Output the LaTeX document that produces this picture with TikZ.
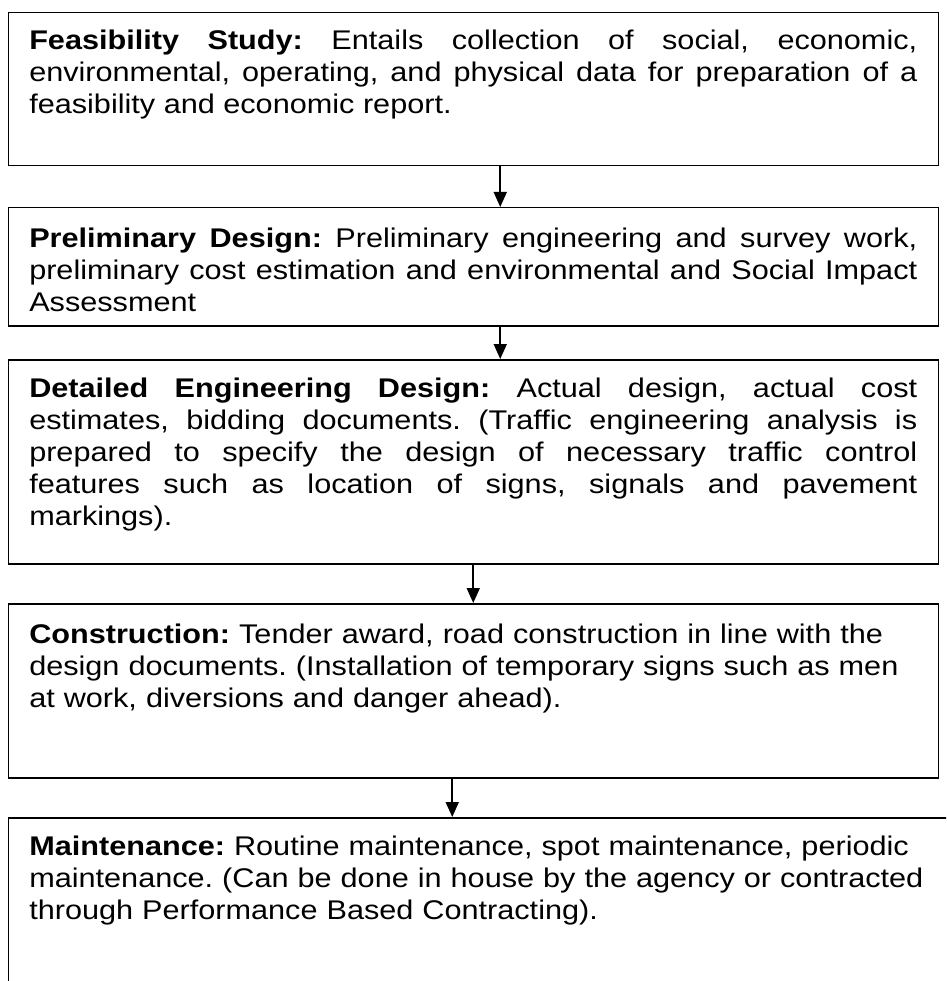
\documentclass[tikz,border=0pt]{standalone}
\usepackage{fontspec}
\setmainfont{Liberation Sans}[FakeStretch=1.135]
\usetikzlibrary{arrows.meta}
\newcommand\stagefont{\fontsize{27}{32}\selectfont\frenchspacing\hyphenpenalty=10000}
\begin{document}
\begin{tikzpicture}[x=1pt,y=1pt,
    stagebox/.style={draw,line width=1.5pt,anchor=north west,inner xsep=21pt,inner ysep=0pt,text width=888pt,font=\stagefont},
    flow/.style={-{Triangle[length=15pt,width=13pt]},line width=1.8pt}]
    \clip (0,0) rectangle (946,-981);
    \node[stagebox,align=justify,text height=37pt,text depth=116pt] (feas) at (7.5,-12) {\textbf{Feasibility Study:} Entails collection of social, economic,\linebreak environmental, operating, and physical data for preparation of a\linebreak feasibility and economic report.};
    \node[stagebox,align=justify,text height=40pt,text depth=78pt] (prelim) at (7.5,-207) {\textbf{Preliminary Design:} Preliminary engineering and survey work,\linebreak preliminary cost estimation and environmental and Social Impact\linebreak Assessment};
    \node[stagebox,align=justify,text height=38pt,text depth=166pt] (detail) at (7.5,-359) {\textbf{Detailed Engineering Design:} Actual design, actual cost\linebreak estimates, bidding documents. (Traffic engineering analysis is\linebreak prepared to specify the design of necessary traffic control\linebreak features such as location of signs, signals and pavement\linebreak markings).};
    \node[stagebox,align=left,text height=40pt,text depth=134pt] (cons) at (7.5,-603) {\textbf{Construction:} Tender award, road construction in line with the\\ design documents. (Installation of temporary signs such as men\\ at work, diversions and danger ahead).};
    \node[stagebox,align=left,text width=900pt,text height=38pt,text depth=160pt] (maint) at (7.5,-817) {\textbf{Maintenance:} Routine maintenance, spot maintenance, periodic\\ maintenance. (Can be done in house by the agency or contracted\\ through Performance Based Contracting).};
    \draw[flow] ([xshift=27pt]feas.south) -- ([xshift=27pt]feas.south |- prelim.north);
    \draw[flow] ([xshift=27pt]prelim.south) -- ([xshift=27pt]prelim.south |- detail.north);
    \draw[flow] (detail.south) -- (cons.north);
    \draw[flow] ([xshift=-21pt]cons.south) -- ([xshift=-21pt]cons.south |- maint.north);
\end{tikzpicture}
\end{document}
